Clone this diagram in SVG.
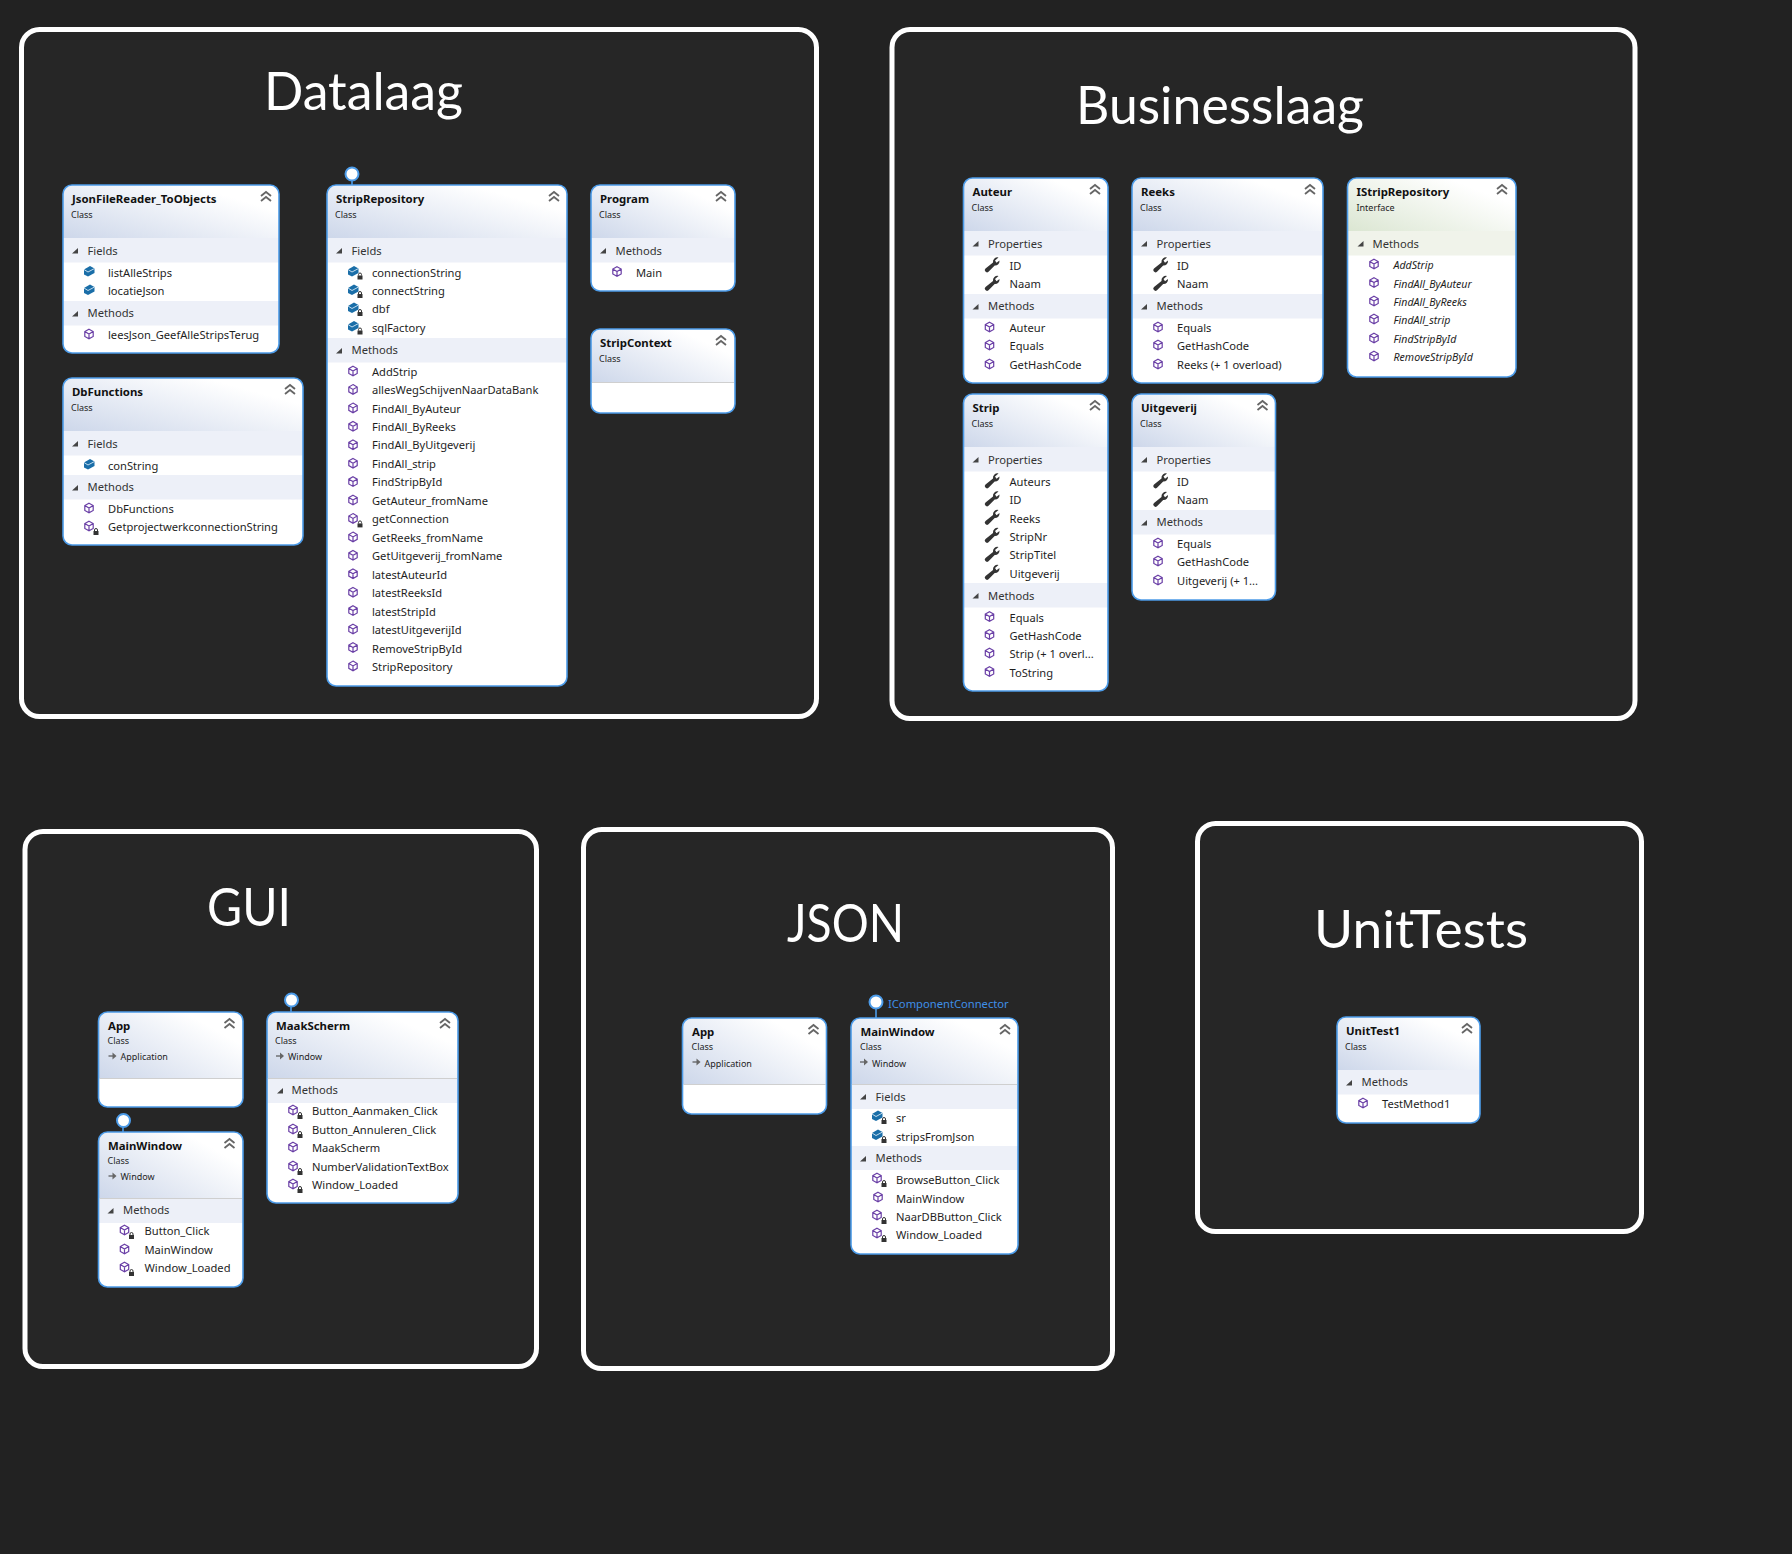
<svg xmlns="http://www.w3.org/2000/svg" width="1792" height="1554" viewBox="0 0 1792 1554">
<style>
text{font-family:"Noto Sans","Open Sans","DejaVu Sans",sans-serif;fill:#1e1e1e}
.pn{fill:#262626;stroke:#fff;stroke-width:5}
.pt{font-family:Lato,"Noto Sans",sans-serif;font-size:52px;fill:#fff}
.box{fill:#fff}
.bd{fill:none;stroke:#4c9be8;stroke-width:1.6}
.hd{fill:url(#hg)}
.hi{fill:url(#hgi)}
.bn{fill:#edf0f8}
.bi{fill:#f0f3ea}
.sp{stroke:#cfcfcf;stroke-width:1}
.ti{font-size:11.4px;font-weight:700;fill:#111}
.su{font-size:9px}
.ba{font-size:11.2px;fill:#333}
.it{font-size:11.15px}
.ii{font-size:10.6px;font-style:italic}
.lb{font-size:11.2px;fill:#3f8fe8}
.lol{fill:#fff;stroke:#4c9be8;stroke-width:2}
.con{stroke:#4c9be8;stroke-width:1.6}
</style>
<defs>
<linearGradient id="hg" x1="0" y1="1" x2="1" y2="0.2"><stop offset="0" stop-color="#cdd7ea"/><stop offset="0.85" stop-color="#fff"/></linearGradient>
<linearGradient id="hgi" x1="0" y1="1" x2="1" y2="0.2"><stop offset="0" stop-color="#dbe6d2"/><stop offset="0.85" stop-color="#fff"/></linearGradient>
<g id="m"><path d="M0-4.800 4.200-2.400V2.400L0 4.800-4.200 2.400V-2.400ZM-4.200-2.400 0 0 4.200-2.400M0 0V4.800" fill="#fff" stroke="#6a3fa6" stroke-width="1.200"/></g>
<g id="l"><rect x="-2.500" y="-1" width="5" height="4" fill="#333"/><path d="M-1.500-1V-2a1.500 1.500 0 0 1 3 0V-1" fill="none" stroke="#333"/></g>
<g id="mp"><use href="#m"/><use href="#l" x="7" y="6"/></g>
<g id="f"><path d="M-5-2 1-5.500 5.500-3V1.500L-1 5-5 3Z" fill="#1a6ea8"/><path d="M-5-2-1 0.500 5.500-3" fill="none" stroke="#d6e8f4" stroke-width="0.900"/></g>
<g id="fp"><use href="#f"/><use href="#l" x="7" y="5"/></g>
<g id="w"><path d="M7-7A4.500 4.500 0 0 0 1.500-2L-6 4A2 2 0 0 0-3 7.200L3.200 1A4.500 4.500 0 0 0 8-4L5-1.800 3.500-4Z" fill="#333"/></g>
<path id="t" d="M-3 2.500H3V-3Z" fill="#444"/>
<g id="c"><path d="M-5-1 0-5 5-1M-5 4 0 0 5 4" fill="none" stroke="#666" stroke-width="1.800"/></g>
<g id="a"><path d="M0 0H5" stroke="#555" stroke-width="1.200"/><path d="M4-3.500 8 0 4 3.500Z" fill="#666"/></g>
</defs>
<rect width="1792" height="1554" fill="#222"/>
<g id="panels">
<g id="panel-datalaag"><rect class="pn" x="21.500" y="29.500" width="795" height="687" rx="18"/><text class="pt" x="264" y="110" textLength="199" lengthAdjust="spacingAndGlyphs">Datalaag</text></g>
<g id="panel-businesslaag"><rect class="pn" x="892" y="29.500" width="743" height="689" rx="18"/><text class="pt" x="1076" y="124" textLength="288" lengthAdjust="spacingAndGlyphs">Businesslaag</text></g>
<g id="panel-gui"><rect class="pn" x="25" y="831.500" width="511.500" height="535" rx="18"/><text class="pt" x="207" y="926" textLength="84" lengthAdjust="spacingAndGlyphs">GUI</text></g>
<g id="panel-json"><rect class="pn" x="583.500" y="829.500" width="529" height="539" rx="18"/><text class="pt" x="787" y="942" textLength="117" lengthAdjust="spacingAndGlyphs">JSON</text></g>
<g id="panel-unittests"><rect class="pn" x="1197.500" y="823.500" width="444" height="408" rx="18"/><text class="pt" x="1314" y="948" textLength="214" lengthAdjust="spacingAndGlyphs">UnitTests</text></g>
</g>
<g id="connectors">
<path class="con" d="M352 174V185M291 1000V1012M123 1120V1132M876 1002V1018"/>
<circle class="lol" cx="352" cy="174" r="6.500"/>
<circle class="lol" cx="291.500" cy="1000" r="6.500"/>
<circle class="lol" cx="123.500" cy="1120.500" r="6.500"/>
<circle class="lol" cx="876" cy="1002" r="6.500"/>
<text class="lb" x="888" y="1008">IComponentConnector</text>
</g>

<g id="JsonFileReader_ToObjects" transform="translate(63,185)">
<rect class="box" width="216" height="168" rx="9"/><path class="hd" d="M0 53V9A9 9 0 0 1 9 0H207A9 9 0 0 1 216 9V53Z"/>
<rect class="bn" y="53" width="216" height="24.500"/><rect class="bn" y="116" width="216" height="24.500"/>
<text class="ti" x="9" y="18">JsonFileReader_ToObjects</text><text class="su" x="8" y="33">Class</text><use href="#c" x="203" y="12"/>
<use href="#t" x="12" y="66"/><text class="ba" x="24.500" y="70">Fields</text>
<use href="#f" x="26" y="86.500"/><text class="it" x="45" y="91.700">listAlleStrips</text>
<use href="#f" x="26" y="105"/><text class="it" x="45" y="109.700">locatieJson</text>
<use href="#t" x="12" y="129"/><text class="ba" x="24.500" y="132">Methods</text>
<use href="#m" x="26" y="149"/><text class="it" x="45" y="154">leesJson_GeefAlleStripsTerug</text>
<rect class="bd" width="216" height="168" rx="9"/></g>

<g id="DbFunctions" transform="translate(63,378)">
<rect class="box" width="240" height="167" rx="9"/><path class="hd" d="M0 53V9A9 9 0 0 1 9 0H231A9 9 0 0 1 240 9V53Z"/>
<rect class="bn" y="53" width="240" height="24.500"/><rect class="bn" y="97" width="240" height="24.500"/>
<text class="ti" x="9" y="18">DbFunctions</text><text class="su" x="8" y="33">Class</text><use href="#c" x="227" y="12"/>
<use href="#t" x="12" y="66"/><text class="ba" x="24.500" y="70">Fields</text>
<use href="#f" x="26" y="86.500"/><text class="it" x="45" y="91.700">conString</text>
<use href="#t" x="12" y="110"/><text class="ba" x="24.500" y="113">Methods</text>
<use href="#m" x="26" y="130"/><text class="it" x="45" y="134.500">DbFunctions</text>
<use href="#mp" x="26" y="148"/><text class="it" x="45" y="153">GetprojectwerkconnectionString</text>
<rect class="bd" width="240" height="167" rx="9"/></g>

<g id="StripRepository" transform="translate(327,185)">
<rect class="box" width="240" height="501" rx="9"/><path class="hd" d="M0 53V9A9 9 0 0 1 9 0H231A9 9 0 0 1 240 9V53Z"/>
<rect class="bn" y="53" width="240" height="24.500"/><rect class="bn" y="153" width="240" height="24.500"/>
<text class="ti" x="9" y="18">StripRepository</text><text class="su" x="8" y="33">Class</text><use href="#c" x="227" y="12"/>
<use href="#t" x="12" y="66"/><text class="ba" x="24.500" y="70">Fields</text>
<use href="#fp" x="26" y="86.500"/><text class="it" x="45" y="91.700">connectionString</text>
<use href="#fp" x="26" y="105"/><text class="it" x="45" y="109.700">connectString</text>
<use href="#fp" x="26" y="123"/><text class="it" x="45" y="128.200">dbf</text>
<use href="#fp" x="26" y="141.500"/><text class="it" x="45" y="146.500">sqlFactory</text>
<use href="#t" x="12" y="166"/><text class="ba" x="24.500" y="169">Methods</text>
<use href="#m" x="26" y="186"/><text class="it" x="45" y="191">AddStrip</text>
<use href="#m" x="26" y="204.400"/><text class="it" x="45" y="209.400">allesWegSchijvenNaarDataBank</text>
<use href="#m" x="26" y="222.900"/><text class="it" x="45" y="227.900">FindAll_ByAuteur</text>
<use href="#m" x="26" y="241.300"/><text class="it" x="45" y="246.300">FindAll_ByReeks</text>
<use href="#m" x="26" y="259.700"/><text class="it" x="45" y="264.200">FindAll_ByUitgeverij</text>
<use href="#m" x="26" y="278.200"/><text class="it" x="45" y="283.200">FindAll_strip</text>
<use href="#m" x="26" y="296.600"/><text class="it" x="45" y="301.200">FindStripById</text>
<use href="#m" x="26" y="315"/><text class="it" x="45" y="320">GetAuteur_fromName</text>
<use href="#mp" x="26" y="333.400"/><text class="it" x="45" y="338.400">getConnection</text>
<use href="#m" x="26" y="351.900"/><text class="it" x="45" y="356.900">GetReeks_fromName</text>
<use href="#m" x="26" y="370.300"/><text class="it" x="45" y="375.300">GetUitgeverij_fromName</text>
<use href="#m" x="26" y="388.700"/><text class="it" x="45" y="393.700">latestAuteurId</text>
<use href="#m" x="26" y="407.200"/><text class="it" x="45" y="412.200">latestReeksId</text>
<use href="#m" x="26" y="425.600"/><text class="it" x="45" y="430.600">latestStripId</text>
<use href="#m" x="26" y="444"/><text class="it" x="45" y="449">latestUitgeverijId</text>
<use href="#m" x="26" y="462.500"/><text class="it" x="45" y="467.500">RemoveStripById</text>
<use href="#m" x="26" y="480.900"/><text class="it" x="45" y="485.900">StripRepository</text>
<rect class="bd" width="240" height="501" rx="9"/></g>

<g id="Program" transform="translate(591,185)">
<rect class="box" width="144" height="106" rx="9"/><path class="hd" d="M0 53V9A9 9 0 0 1 9 0H135A9 9 0 0 1 144 9V53Z"/>
<rect class="bn" y="53" width="144" height="24.500"/>
<text class="ti" x="9" y="18">Program</text><text class="su" x="8" y="33">Class</text><use href="#c" x="130" y="12"/>
<use href="#t" x="12" y="66"/><text class="ba" x="24.500" y="70">Methods</text>
<use href="#m" x="26" y="86.500"/><text class="it" x="45" y="91.700">Main</text>
<rect class="bd" width="144" height="106" rx="9"/></g>

<g id="StripContext" transform="translate(591,329)">
<rect class="box" width="144" height="84" rx="9"/><path class="hd" d="M0 53V9A9 9 0 0 1 9 0H135A9 9 0 0 1 144 9V53Z"/>
<path class="sp" d="M1 53.500H143"/>
<text class="ti" x="9" y="18">StripContext</text><text class="su" x="8" y="33">Class</text><use href="#c" x="130" y="12"/>
<rect class="bd" width="144" height="84" rx="9"/></g>

<g id="Auteur" transform="translate(963.500,178)">
<rect class="box" width="144.500" height="205" rx="9"/><path class="hd" d="M0 53V9A9 9 0 0 1 9 0H135.500A9 9 0 0 1 144.500 9V53Z"/>
<rect class="bn" y="53" width="144.500" height="24.500"/><rect class="bn" y="116" width="144.500" height="24.500"/>
<text class="ti" x="9" y="18">Auteur</text><text class="su" x="8" y="33">Class</text><use href="#c" x="131.500" y="12"/>
<use href="#t" x="12" y="66"/><text class="ba" x="24.500" y="70">Properties</text>
<use href="#w" x="28" y="86.500"/><text class="it" x="46" y="91.700">ID</text>
<use href="#w" x="28" y="105"/><text class="it" x="46" y="110">Naam</text>
<use href="#t" x="12" y="129"/><text class="ba" x="24.500" y="132">Methods</text>
<use href="#m" x="26" y="149"/><text class="it" x="46" y="154">Auteur</text>
<use href="#m" x="26" y="167"/><text class="it" x="46" y="172">Equals</text>
<use href="#m" x="26" y="186"/><text class="it" x="46" y="191">GetHashCode</text>
<rect class="bd" width="144.500" height="205" rx="9"/></g>

<g id="Reeks" transform="translate(1132,178)">
<rect class="box" width="191" height="205" rx="9"/><path class="hd" d="M0 53V9A9 9 0 0 1 9 0H182A9 9 0 0 1 191 9V53Z"/>
<rect class="bn" y="53" width="191" height="24.500"/><rect class="bn" y="116" width="191" height="24.500"/>
<text class="ti" x="9" y="18">Reeks</text><text class="su" x="8" y="33">Class</text><use href="#c" x="178" y="12"/>
<use href="#t" x="12" y="66"/><text class="ba" x="24.500" y="70">Properties</text>
<use href="#w" x="28" y="86.500"/><text class="it" x="45" y="91.700">ID</text>
<use href="#w" x="28" y="105"/><text class="it" x="45" y="110">Naam</text>
<use href="#t" x="12" y="129"/><text class="ba" x="24.500" y="132">Methods</text>
<use href="#m" x="26" y="149"/><text class="it" x="45" y="154">Equals</text>
<use href="#m" x="26" y="167"/><text class="it" x="45" y="172">GetHashCode</text>
<use href="#m" x="26" y="186"/><text class="it" x="45" y="191">Reeks (+ 1 overload)</text>
<rect class="bd" width="191" height="205" rx="9"/></g>

<g id="IStripRepository" transform="translate(1347.500,178)">
<rect class="box" width="168.500" height="199" rx="9"/><path class="hi" d="M0 53V9A9 9 0 0 1 9 0H159.500A9 9 0 0 1 168.500 9V53Z"/>
<rect class="bi" y="53" width="168.500" height="24.500"/>
<text class="ti" x="9" y="18">IStripRepository</text><text class="su" x="9" y="33">Interface</text><use href="#c" x="154.500" y="12"/>
<use href="#t" x="13" y="66"/><text class="ba" x="25" y="70">Methods</text>
<use href="#m" x="26.500" y="86"/><text class="ii" x="46" y="91">AddStrip</text>
<use href="#m" x="26.500" y="104.500"/><text class="ii" x="46" y="109.500">FindAll_ByAuteur</text>
<use href="#m" x="26.500" y="123"/><text class="ii" x="46" y="128">FindAll_ByReeks</text>
<use href="#m" x="26.500" y="141"/><text class="ii" x="46" y="146.300">FindAll_strip</text>
<use href="#m" x="26.500" y="160"/><text class="ii" x="46" y="164.700">FindStripById</text>
<use href="#m" x="26.500" y="178"/><text class="ii" x="46" y="183">RemoveStripById</text>
<rect class="bd" width="168.500" height="199" rx="9"/></g>

<g id="Strip" transform="translate(963.500,394)">
<rect class="box" width="144.500" height="297" rx="9"/><path class="hd" d="M0 53V9A9 9 0 0 1 9 0H135.500A9 9 0 0 1 144.500 9V53Z"/>
<rect class="bn" y="53" width="144.500" height="24.500"/><rect class="bn" y="189" width="144.500" height="24.500"/>
<text class="ti" x="9" y="18">Strip</text><text class="su" x="8" y="33">Class</text><use href="#c" x="131.500" y="12"/>
<use href="#t" x="12" y="66"/><text class="ba" x="24.500" y="70">Properties</text>
<use href="#w" x="28" y="86.500"/><text class="it" x="46" y="91.700">Auteurs</text>
<use href="#w" x="28" y="104.500"/><text class="it" x="46" y="109.500">ID</text>
<use href="#w" x="28" y="123"/><text class="it" x="46" y="128.500">Reeks</text>
<use href="#w" x="28" y="141"/><text class="it" x="46" y="146.800">StripNr</text>
<use href="#w" x="28" y="160"/><text class="it" x="46" y="165.200">StripTitel</text>
<use href="#w" x="28" y="178"/><text class="it" x="46" y="183.500">Uitgeverij</text>
<use href="#t" x="12" y="202"/><text class="ba" x="24.500" y="206">Methods</text>
<use href="#m" x="26" y="222.500"/><text class="it" x="46" y="227.700">Equals</text>
<use href="#m" x="26" y="240.500"/><text class="it" x="46" y="245.500">GetHashCode</text>
<use href="#m" x="26" y="259"/><text class="it" x="46" y="264">Strip (+ 1 overl...</text>
<use href="#m" x="26" y="277.500"/><text class="it" x="46" y="282.700">ToString</text>
<rect class="bd" width="144.500" height="297" rx="9"/></g>

<g id="Uitgeverij" transform="translate(1132,394)">
<rect class="box" width="143.500" height="206" rx="9"/><path class="hd" d="M0 53V9A9 9 0 0 1 9 0H134.500A9 9 0 0 1 143.500 9V53Z"/>
<rect class="bn" y="53" width="143.500" height="24.500"/><rect class="bn" y="116" width="143.500" height="24.500"/>
<text class="ti" x="9" y="18">Uitgeverij</text><text class="su" x="8" y="33">Class</text><use href="#c" x="130.500" y="12"/>
<use href="#t" x="12" y="66"/><text class="ba" x="24.500" y="70">Properties</text>
<use href="#w" x="28" y="86.500"/><text class="it" x="45" y="91.700">ID</text>
<use href="#w" x="28" y="105"/><text class="it" x="45" y="110">Naam</text>
<use href="#t" x="12" y="129"/><text class="ba" x="24.500" y="132">Methods</text>
<use href="#m" x="26" y="149"/><text class="it" x="45" y="154">Equals</text>
<use href="#m" x="26" y="167"/><text class="it" x="45" y="172">GetHashCode</text>
<use href="#m" x="26" y="186"/><text class="it" x="45" y="191">Uitgeverij (+ 1...</text>
<rect class="bd" width="143.500" height="206" rx="9"/></g>

<g id="GUI_App" transform="translate(98.500,1012)">
<rect class="box" width="144.500" height="95" rx="9"/><path class="hd" d="M0 66V9A9 9 0 0 1 9 0H135.500A9 9 0 0 1 144.500 9V66Z"/>
<path class="sp" d="M1 66.500H143.500"/>
<text class="ti" x="9.500" y="17.500">App</text><text class="su" x="9" y="32">Class</text><use href="#a" x="10" y="44"/><text class="su" x="22" y="48">Application</text><use href="#c" x="131" y="12"/>
<rect class="bd" width="144.500" height="95" rx="9"/></g>

<g id="GUI_MainWindow" transform="translate(98.500,1132)">
<rect class="box" width="144.500" height="155" rx="9"/><path class="hd" d="M0 66V9A9 9 0 0 1 9 0H135.500A9 9 0 0 1 144.500 9V66Z"/>
<path class="sp" d="M1 66.500H143.500"/><rect class="bn" y="67" width="144.500" height="24"/>
<text class="ti" x="9.500" y="17.500">MainWindow</text><text class="su" x="9" y="32">Class</text><use href="#a" x="10" y="44"/><text class="su" x="22" y="48">Window</text><use href="#c" x="131" y="12"/>
<use href="#t" x="12" y="79"/><text class="ba" x="24.500" y="82">Methods</text>
<use href="#mp" x="26" y="98"/><text class="it" x="46" y="103">Button_Click</text>
<use href="#m" x="26" y="117"/><text class="it" x="46" y="122">MainWindow</text>
<use href="#mp" x="26" y="135"/><text class="it" x="46" y="140">Window_Loaded</text>
<rect class="bd" width="144.500" height="155" rx="9"/></g>

<g id="MaakScherm" transform="translate(267,1012)">
<rect class="box" width="191" height="191" rx="9"/><path class="hd" d="M0 66V9A9 9 0 0 1 9 0H182A9 9 0 0 1 191 9V66Z"/>
<path class="sp" d="M1 66.500H190"/><rect class="bn" y="67" width="191" height="24"/>
<text class="ti" x="9" y="17.500">MaakScherm</text><text class="su" x="8" y="32">Class</text><use href="#a" x="9" y="44"/><text class="su" x="21" y="48">Window</text><use href="#c" x="178" y="12"/>
<use href="#t" x="13" y="79"/><text class="ba" x="24.500" y="82">Methods</text>
<use href="#mp" x="26" y="98"/><text class="it" x="45" y="103">Button_Aanmaken_Click</text>
<use href="#mp" x="26" y="117"/><text class="it" x="45" y="122">Button_Annuleren_Click</text>
<use href="#m" x="26" y="135"/><text class="it" x="45" y="140">MaakScherm</text>
<use href="#mp" x="26" y="154"/><text class="it" x="45" y="159">NumberValidationTextBox</text>
<use href="#mp" x="26" y="172"/><text class="it" x="45" y="177">Window_Loaded</text>
<rect class="bd" width="191" height="191" rx="9"/></g>

<g id="JSON_App" transform="translate(682.500,1018)">
<rect class="box" width="144" height="96" rx="9"/><path class="hd" d="M0 66V9A9 9 0 0 1 9 0H135A9 9 0 0 1 144 9V66Z"/>
<path class="sp" d="M1 66.500H143"/>
<text class="ti" x="9.500" y="17.500">App</text><text class="su" x="9" y="32">Class</text><use href="#a" x="10" y="44"/><text class="su" x="22" y="48.500">Application</text><use href="#c" x="131" y="12"/>
<rect class="bd" width="144" height="96" rx="9"/></g>

<g id="JSON_MainWindow" transform="translate(851,1018)">
<rect class="box" width="167" height="236" rx="9"/><path class="hd" d="M0 66V9A9 9 0 0 1 9 0H158A9 9 0 0 1 167 9V66Z"/>
<path class="sp" d="M1 66.500H166"/><rect class="bn" y="67" width="167" height="24"/><rect class="bn" y="128" width="167" height="24"/>
<text class="ti" x="9.500" y="17.500">MainWindow</text><text class="su" x="9" y="32">Class</text><use href="#a" x="9" y="44"/><text class="su" x="21" y="48.500">Window</text><use href="#c" x="154" y="12"/>
<use href="#t" x="12" y="79"/><text class="ba" x="24.500" y="83">Fields</text>
<use href="#fp" x="26" y="98"/><text class="it" x="45" y="103.500">sr</text>
<use href="#fp" x="26" y="117"/><text class="it" x="45" y="122.500">stripsFromJson</text>
<use href="#t" x="12" y="141"/><text class="ba" x="24.500" y="144">Methods</text>
<use href="#mp" x="26" y="160"/><text class="it" x="45" y="165.500">BrowseButton_Click</text>
<use href="#m" x="27" y="179"/><text class="it" x="45" y="184.500">MainWindow</text>
<use href="#mp" x="26" y="197"/><text class="it" x="45" y="202.500">NaarDBButton_Click</text>
<use href="#mp" x="26" y="215"/><text class="it" x="45" y="220.500">Window_Loaded</text>
<rect class="bd" width="167" height="236" rx="9"/></g>

<g id="UnitTest1" transform="translate(1337,1017)">
<rect class="box" width="143" height="106" rx="9"/><path class="hd" d="M0 53V9A9 9 0 0 1 9 0H134A9 9 0 0 1 143 9V53Z"/>
<rect class="bn" y="53" width="143" height="24.500"/>
<text class="ti" x="9" y="17.500">UnitTest1</text><text class="su" x="8" y="33">Class</text><use href="#c" x="130" y="12"/>
<use href="#t" x="12" y="66"/><text class="ba" x="24.500" y="69">Methods</text>
<use href="#m" x="26" y="86"/><text class="it" x="45" y="91">TestMethod1</text>
<rect class="bd" width="143" height="106" rx="9"/></g>
</svg>
